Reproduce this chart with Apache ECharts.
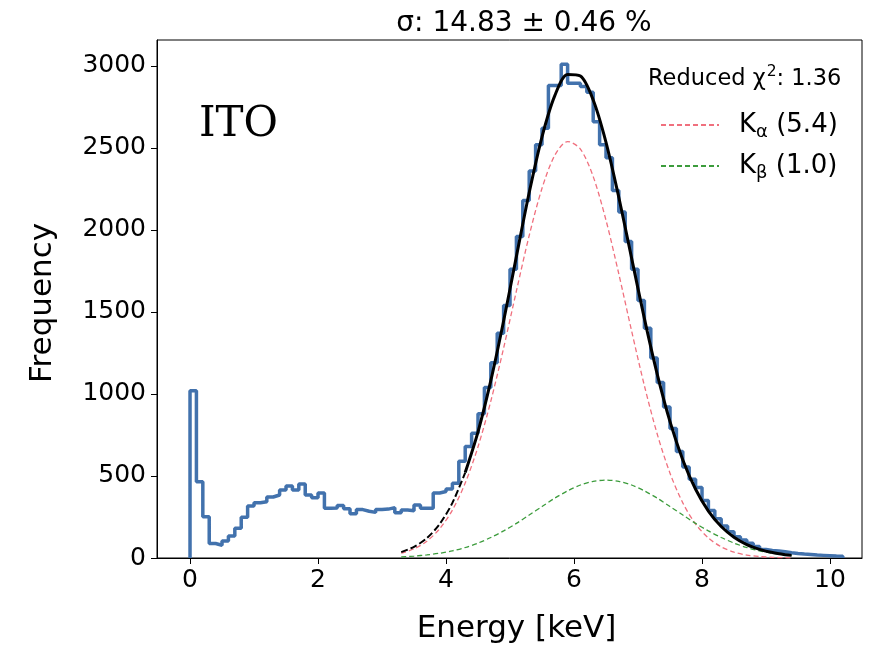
<!DOCTYPE html>
<html><head><meta charset="utf-8">
<script src="https://cdn.jsdelivr.net/npm/echarts@6/dist/echarts.min.js"></script>
<style>html,body{margin:0;padding:0;background:#fff}#c{width:874px;height:647px}</style>
</head><body><div id="c"></div>
<script>
// ---- data ----
const binWidth = 0.1;
const histCounts = [
  1020, 465, 252, 88, 78, 104, 134, 181, 248, 317,
  337, 343, 372, 384, 415, 439, 415, 451, 384, 368,
  396, 303, 305, 320, 300, 270, 295, 285, 278, 295,
  298, 307, 276, 292, 288, 323, 303, 303, 396, 405,
  420, 455, 590, 680, 760, 880, 1040, 1190, 1370, 1540,
  1760, 1960, 2180, 2360, 2520, 2620, 2880, 2880, 3010, 2895,
  2895, 2875, 2840, 2660, 2520, 2440, 2240, 2110, 1930, 1760,
  1570, 1400, 1220, 1070, 920, 790, 650, 555, 480, 430,
  350, 290, 240, 195, 160, 130, 110, 90, 70, 52,
  46, 42, 38, 32, 27, 24, 22, 18, 16, 14,
  12, 11
];
const fitEnergy = [3.3,3.5,3.7,3.9,4.1,4.3,4.5,4.7,4.9,5.1,5.3,5.5,5.7,5.9,6.1,6.3,6.5,6.7,6.9,7.1,7.3,7.5,7.7,7.9,8.1,8.3,8.5,8.7,8.9,9.1,9.3,9.4];
const fitTotal  = [36,68,121,207,336,521,769,1081,1445,1839,2228,2568,2819,2948,2938,2792,2534,2199,1828,1459,1121,831,598,419,286,192,127,82,53,33,20,16];
const fitKalpha = [29,56,102,178,292,457,678,956,1280,1628,1966,2254,2455,2539,2493,2325,2059,1732,1384,1050,756,517,336,207,122,68,36,18,9,4,2,1];
const fitKbeta  = [7,12,19,29,44,64,91,125,165,211,262,314,365,409,445,467,475,467,445,409,365,314,262,211,165,125,91,64,44,29,19,15];
const fitRangeStart = 4.3;
const xTicks = [0, 2, 4, 6, 8, 10];
const yTicks = [0, 500, 1000, 1500, 2000, 2500, 3000];
const titleText = 'σ: 14.83 ± 0.46 %';
const chiParts = ['Reduced χ', '2', ': 1.36'];
const labelText = 'ITO';
const seriesNames = ['Kα (5.4)', 'Kβ (1.0)'];
const xName = 'Energy [keV]';
const yName = 'Frequency';

// ---- build ----
const histData = [[0, 0]];
histCounts.forEach((c, i) => histData.push([+(i * binWidth).toFixed(4), c]));
const lastEdge = +(histCounts.length * binWidth).toFixed(4);
histData.push([lastEdge, histCounts[histCounts.length - 1]]);
histData.push([lastEdge, 0]);

const pair = (ys) => fitEnergy.map((x, i) => [x, ys[i]]);
const totalAll = pair(fitTotal);
const totalDashed = totalAll.filter(p => p[0] <= fitRangeStart);
const totalSolid = totalAll.filter(p => p[0] >= fitRangeStart);

const FONT = 'DejaVu Sans';
const chart = echarts.init(document.getElementById('c'), null, {renderer: 'canvas'});
chart.setOption({
  animation: false,
  backgroundColor: '#fff',
  title: {
    text: titleText, left: 519, top: 5, textAlign: 'center',
    textStyle: {fontFamily: FONT, fontSize: 28, fontWeight: 'normal', color: '#000'}
  },
  grid: {left: 157, right: 12, top: 40, bottom: 89, outerBoundsMode: 'none', containLabel: false,
         show: true, borderColor: '#000', borderWidth: 1, backgroundColor: 'transparent'},
  xAxis: {
    type: 'value', min: -0.516, max: 10.5,
    name: xName, nameLocation: 'middle', nameGap: 55,
    nameTextStyle: {fontFamily: FONT, fontSize: 31, color: '#000', padding: [0, 0, 0, 14]},
    axisLine: {show: true, onZero: false, lineStyle: {color: '#000', width: 1}},
    axisTick: {show: true, inside: false, length: 6, customValues: xTicks, lineStyle: {color: '#000', width: 1}},
    axisLabel: {customValues: xTicks, margin: 10, fontFamily: FONT, fontSize: 25, color: '#000', formatter: v => String(v)},
    splitLine: {show: false}
  },
  yAxis: {
    type: 'value', min: 0, max: 3158,
    name: yName, nameLocation: 'middle', nameGap: 99, nameRotate: 90,
    nameTextStyle: {fontFamily: FONT, fontSize: 31, color: '#000', padding: [0, 8, 0, 0]},
    axisLine: {show: true, onZero: false, lineStyle: {color: '#000', width: 1}},
    axisTick: {show: true, inside: false, length: 6, customValues: yTicks, lineStyle: {color: '#000', width: 1}},
    axisLabel: {customValues: yTicks, margin: 11, fontFamily: FONT, fontSize: 25, color: '#000', formatter: v => String(v)},
    splitLine: {show: false}
  },
  legend: {
    orient: 'vertical', left: 660, top: 112, padding: 0,
    itemWidth: 58, itemHeight: 14, itemGap: 12,
    data: seriesNames,
    itemStyle: {opacity: 0},
    formatter: n => '{g|}{b|' + n.charAt(0) + '}{s|' + n.charAt(1) + '}{b|' + n.slice(2) + '}',
    textStyle: {
      fontFamily: FONT, fontSize: 26, color: '#000',
      rich: {
        g: {width: 15},
        b: {fontFamily: FONT, fontSize: 26, lineHeight: 32, color: '#000'},
        s: {fontFamily: FONT, fontSize: 18, lineHeight: 32, verticalAlign: 'bottom', color: '#000'}
      }
    }
  },
  graphic: [
    {type: 'text', left: 648, top: 62, style: {
      text: '{a|' + chiParts[0] + '}{p|' + chiParts[1] + '}{a|' + chiParts[2] + '}',
      rich: {
        a: {fontFamily: FONT, fontSize: 22.5, lineHeight: 34, fill: '#000', color: '#000'},
        p: {fontFamily: FONT, fontSize: 15.5, lineHeight: 34, verticalAlign: 'top', fill: '#000', color: '#000', padding: [2, 0, 0, 1]}
      }
    }},
    {type: 'text', left: 199, top: 104, style: {text: labelText, fontFamily: 'DejaVu Serif', fontSize: 42, fill: '#000'}}
  ],
  series: [
    {type: 'line', name: 'hist', data: histData, step: 'end', showSymbol: false, symbol: 'none',
     lineStyle: {color: '#4272ad', width: 3.5}, z: 2},
    {type: 'line', name: seriesNames[0], data: pair(fitKalpha), smooth: 0.3, showSymbol: false, symbol: 'none',
     color: '#f0707e', lineStyle: {color: '#f0707e', width: 1.3, type: [5, 3]}, z: 3},
    {type: 'line', name: seriesNames[1], data: pair(fitKbeta), smooth: 0.3, showSymbol: false, symbol: 'none',
     color: '#3c9c3c', lineStyle: {color: '#3c9c3c', width: 1.3, type: [5, 3]}, z: 3},
    {type: 'line', name: 'fit-ext', data: totalDashed, smooth: 0.3, showSymbol: false, symbol: 'none',
     lineStyle: {color: '#000', width: 2, type: [7, 3]}, z: 4},
    {type: 'line', name: 'fit', data: totalSolid, smooth: 0.3, showSymbol: false, symbol: 'none',
     lineStyle: {color: '#000', width: 3}, z: 5}
  ]
});
</script></body></html>
